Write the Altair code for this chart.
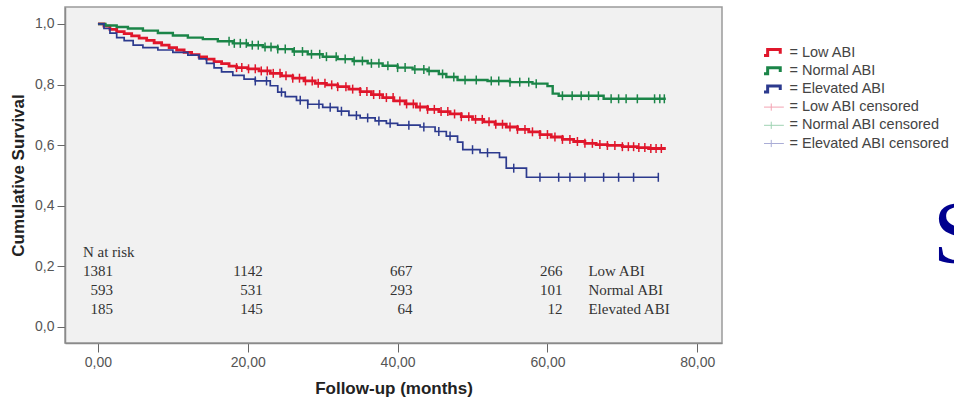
import altair as alt
import pandas as pd

# ---------------- data ----------------
groups = ["Low ABI", "Normal ABI", "Elevated ABI"]
legend_keys = ["Low ABI", "Normal ABI", "Elevated ABI",
               "Low ABI censored", "Normal ABI censored", "Elevated ABI censored"]
key_colors = ["#e0162b", "#1b8548", "#2c3a8e", "#f3a3b3", "#9fd3b3", "#aaadd6"]

low_t = [0, 0.8, 1.6, 2.5, 3.5, 4.5, 5.5, 6.5, 7.5, 8.5, 9.5, 10.5, 11.5, 12.5, 13.5, 14.5,
         15.5, 16.5, 17.5, 18.5, 20, 21.5, 23, 24.5, 26, 27.5, 29, 30.5, 32, 33.5, 35, 36.5,
         38, 39.5, 41, 42.5, 44, 45.5, 47, 48.5, 50, 51.5, 53, 54.5, 56, 57.5, 59, 60.5, 62,
         63.5, 65, 66.5, 68, 70, 72, 73.5]
low_s = [1.0, 0.993, 0.982, 0.975, 0.968, 0.961, 0.953, 0.946, 0.938, 0.930, 0.922, 0.914,
         0.906, 0.899, 0.891, 0.884, 0.876, 0.869, 0.861, 0.856, 0.852, 0.845, 0.837, 0.829,
         0.821, 0.812, 0.804, 0.799, 0.793, 0.785, 0.777, 0.767, 0.757, 0.746, 0.736, 0.726,
         0.718, 0.711, 0.703, 0.694, 0.685, 0.677, 0.669, 0.660, 0.652, 0.644, 0.635, 0.627,
         0.619, 0.612, 0.606, 0.602, 0.599, 0.595, 0.592, 0.589]
low_end = 75.8

normal_t = [0, 1, 2.5, 4, 6, 8, 10, 12, 14, 16, 18, 20, 22, 24, 26, 28, 30, 32, 34, 36, 38,
            40, 42, 44, 45.5, 46.5, 48, 52, 55, 58, 60, 60.7, 61.5, 67.5]
normal_s = [1.0, 0.995, 0.990, 0.985, 0.978, 0.970, 0.962, 0.955, 0.950, 0.943, 0.936, 0.930,
            0.924, 0.917, 0.909, 0.900, 0.892, 0.884, 0.878, 0.870, 0.862, 0.856, 0.850, 0.845,
            0.835, 0.825, 0.815, 0.812, 0.808, 0.803, 0.795, 0.770, 0.763, 0.753]
normal_end = 75.8

elev_t = [0, 0.8, 1.6, 2.5, 3.5, 4.7, 6, 8, 10, 12, 13.5, 14.5, 15.5, 16.5, 18, 19.5, 21, 23,
          24, 25, 26.5, 28, 30, 32, 33.5, 35, 37, 38.5, 40, 43, 45, 46.5, 48, 48.7, 51, 53.6,
          54.5, 57.2]
elev_s = [1.0, 0.985, 0.970, 0.955, 0.945, 0.930, 0.922, 0.914, 0.906, 0.897, 0.885, 0.870,
          0.855, 0.842, 0.830, 0.818, 0.812, 0.796, 0.775, 0.760, 0.748, 0.735, 0.725, 0.712,
          0.698, 0.690, 0.680, 0.672, 0.666, 0.660, 0.645, 0.630, 0.610, 0.585, 0.575, 0.560,
          0.524, 0.494]
elev_end = 74.8

low_cens = [18.5, 19.2, 20.1, 21, 21.8, 22.6, 23.4, 24.3, 25.1, 26, 26.9, 27.7, 28.6, 29.4,
            30.3, 31.2, 32, 33.1, 34, 35, 35.9, 36.8, 37.6, 38.5, 39.4, 40.3, 41.2, 42.1, 43,
            44, 44.9, 45.8, 46.7, 47.6, 48.5, 49.5, 50.4, 51.3, 52.2, 53.1, 54, 55, 56, 57, 58,
            59, 60, 61, 62, 63, 64, 65, 66, 67, 68, 69, 70, 70.8, 71.5, 72.2, 73, 73.8, 74.5,
            75.2]
normal_cens = [17.5, 18.2, 19, 19.8, 20.6, 21.4, 22.3, 23.1, 24, 25, 26.2, 27.3, 28.5, 29.6,
               30.5, 31.8, 33, 34.2, 35.3, 36.5, 37.5, 38.7, 40, 41, 42.3, 43.5, 44.2, 46,
               47.5, 49, 50.5, 52.5, 53.5, 55, 56.3, 57.5, 58.5, 62, 63.3, 64.5, 65.5, 66.8,
               68.5, 69.5, 70.5, 72, 74.3, 75, 75.6]
elev_cens = [21, 22.5, 24.5, 27, 28, 29.5, 31, 32.5, 34.5, 36, 37.5, 39, 41.5, 43.5, 45.5, 47,
             50, 52, 55.5, 59, 61.5, 63, 65, 67.5, 69.5, 71.5, 74.8]

risk_times = [0, 20, 40, 60]
risk_low = [1381, 1142, 667, 266]
risk_normal = [593, 531, 293, 101]
risk_elev = [185, 145, 64, 12]

# ---------------- tables built from the arrays ----------------
series = [
    ("Low ABI", low_t, low_s, low_end, low_cens),
    ("Normal ABI", normal_t, normal_s, normal_end, normal_cens),
    ("Elevated ABI", elev_t, elev_s, elev_end, elev_cens),
]

def surv_at(ts, ss, c):
    idx = max(i for i, t in enumerate(ts) if t <= c)
    return ss[idx]

line_rows, cens_rows = [], []
for g, ts, ss, end, cens in series:
    for t, s in zip(ts, ss):
        line_rows.append({"group": g, "t": t, "s": s})
    line_rows.append({"group": g, "t": end, "s": ss[-1]})
    for c in cens:
        cens_rows.append({"group": g, "t": c, "s": surv_at(ts, ss, c)})
line_df = pd.DataFrame(line_rows)
cens_df = pd.DataFrame(cens_rows)

# N at risk table (row layout in data units of the y axis)
row_y = [0.185, 0.1225, 0.06]
risk_rows = []
for r, (g, vals) in enumerate(zip(groups, [risk_low, risk_normal, risk_elev])):
    for t, v in zip(risk_times, vals):
        risk_rows.append({"t": t, "y": row_y[r], "label": str(v)})
risk_df = pd.DataFrame(risk_rows)
risk_lab_df = pd.DataFrame({"t": [risk_times[-1]] * 3, "y": row_y, "label": groups})
risk_head_df = pd.DataFrame({"t": [risk_times[0]], "y": [0.247], "label": ["N at risk"]})

legend_df = pd.DataFrame({"group": legend_keys})

# ---------------- scales / axes ----------------
SANS = "Liberation Sans"
SERIF = "Liberation Serif"
x_scale = alt.Scale(domain=[-4.4, 83.3], nice=False, zero=False)
y_scale = alt.Scale(domain=[-0.053, 1.056], nice=False, zero=False)
color_scale = alt.Scale(domain=legend_keys, range=key_colors)

step_icon = "M-3.15,0.75L-0.9,0.75L-0.9,-0.75L2.25,-0.75L2.25,0.3"
cens_icon = "M-3.15,0L3.15,0M0,-0.9L0,0.9"
shape_scale = alt.Scale(domain=legend_keys, range=[step_icon] * 3 + [cens_icon] * 3)

x_axis = alt.Axis(values=[0, 20, 40, 60, 80], format=".2f",
                  labelExpr="replace(datum.label, '.', ',')",
                  title="Follow-up (months)", grid=False, tickSize=9, tickColor="#666",
                  domainColor="#8a8a8a", domainWidth=1.5, labelFont=SANS, labelFontSize=14,
                  labelColor="#555", labelPadding=3, titleFont=SANS, titleFontSize=17,
                  titleFontWeight="bold", titleColor="#222", titlePadding=11)
y_axis = alt.Axis(values=[0, 0.2, 0.4, 0.6, 0.8, 1.0], format=".1f",
                  labelExpr="replace(datum.label, '.', ',')",
                  title="Cumulative Survival", grid=False, tickSize=8, tickColor="#666",
                  domainColor="#8a8a8a", domainWidth=1.5, labelFont=SANS, labelFontSize=14,
                  labelColor="#555", labelPadding=3, titleFont=SANS, titleFontSize=17,
                  titleFontWeight="bold", titleColor="#222", titlePadding=7)

leg = alt.Legend(title=None, labelExpr="'= ' + datum.label", orient="none",
                 legendX=699, legendY=39, clipHeight=13, labelLimit=300)

line_widths = {"Low ABI": 2.8, "Normal ABI": 2.4, "Elevated ABI": 1.7}

line_layers = []
for i, g in enumerate(groups):
    if i == 0:
        xe = alt.X("t:Q", scale=x_scale, axis=x_axis)
        ye = alt.Y("s:Q", scale=y_scale, axis=y_axis)
    else:
        xe = alt.X("t:Q", scale=x_scale)
        ye = alt.Y("s:Q", scale=y_scale)
    line_layers.append(
        alt.Chart(line_df).transform_filter(alt.datum.group == g)
        .mark_line(interpolate="step-after", strokeWidth=line_widths[g])
        .encode(x=xe, y=ye,
                color=alt.Color("group:N", scale=color_scale, legend=leg))
    )

cens = alt.Chart(cens_df).mark_point(shape="M0,-1L0,1", filled=False, size=81,
                                     strokeWidth=1.5, opacity=1).encode(
    x=alt.X("t:Q", scale=x_scale), y=alt.Y("s:Q", scale=y_scale),
    color=alt.Color("group:N", scale=color_scale, legend=leg),
)

legend_layer = alt.Chart(legend_df).mark_point(filled=False, opacity=0).encode(
    x=alt.value(0), y=alt.value(0),
    color=alt.Color("group:N", scale=color_scale, legend=leg),
    shape=alt.Shape("group:N", scale=shape_scale, legend=leg),
    strokeWidth=alt.StrokeWidth("group:O",
                                scale=alt.Scale(type="ordinal", domain=legend_keys,
                                                range=[3, 3, 3, 1, 1, 1]),
                                legend=leg),
)

risk_nums = alt.Chart(risk_df).mark_text(align="right", baseline="middle", dx=15,
                                         font=SERIF, fontSize=15, color="#333").encode(
    x=alt.X("t:Q", scale=x_scale), y=alt.Y("y:Q", scale=y_scale), text="label:N")
risk_labels = alt.Chart(risk_lab_df).mark_text(align="left", baseline="middle", dx=41,
                                               font=SERIF, fontSize=15, color="#333").encode(
    x=alt.X("t:Q", scale=x_scale), y=alt.Y("y:Q", scale=y_scale), text="label:N")
risk_head = alt.Chart(risk_head_df).mark_text(align="left", baseline="middle", dx=-15,
                                              font=SERIF, fontSize=15, color="#333").encode(
    x=alt.X("t:Q", scale=x_scale), y=alt.Y("y:Q", scale=y_scale), text="label:N")

slide_letter = alt.Chart(pd.DataFrame({"label": ["S"]})).mark_text(
    align="left", baseline="alphabetic", font=SERIF, fontSize=88, color="#00008f").encode(
    x=alt.value(868), y=alt.value(255), text="label:N")

chart = alt.layer(*line_layers, cens, legend_layer, risk_nums, risk_labels, risk_head,
                  slide_letter
).properties(
    width=657, height=336,
    autosize=alt.AutoSizeParams(type="none"),
    padding={"left": 65, "top": 7, "right": 232, "bottom": 66},
    background="white",
).configure_view(
    fill="#f1f1f1", stroke="#9a9a9a", strokeWidth=1.5
).configure_legend(
    labelOffset=11, rowPadding=3.2,
    symbolSize=64, labelFont=SANS, labelFontSize=14.5, labelColor="#444",
    symbolOpacity=1, padding=0, symbolFillColor="transparent"
)

chart.save("out.html", embed_options={"renderer": "svg", "actions": False})
